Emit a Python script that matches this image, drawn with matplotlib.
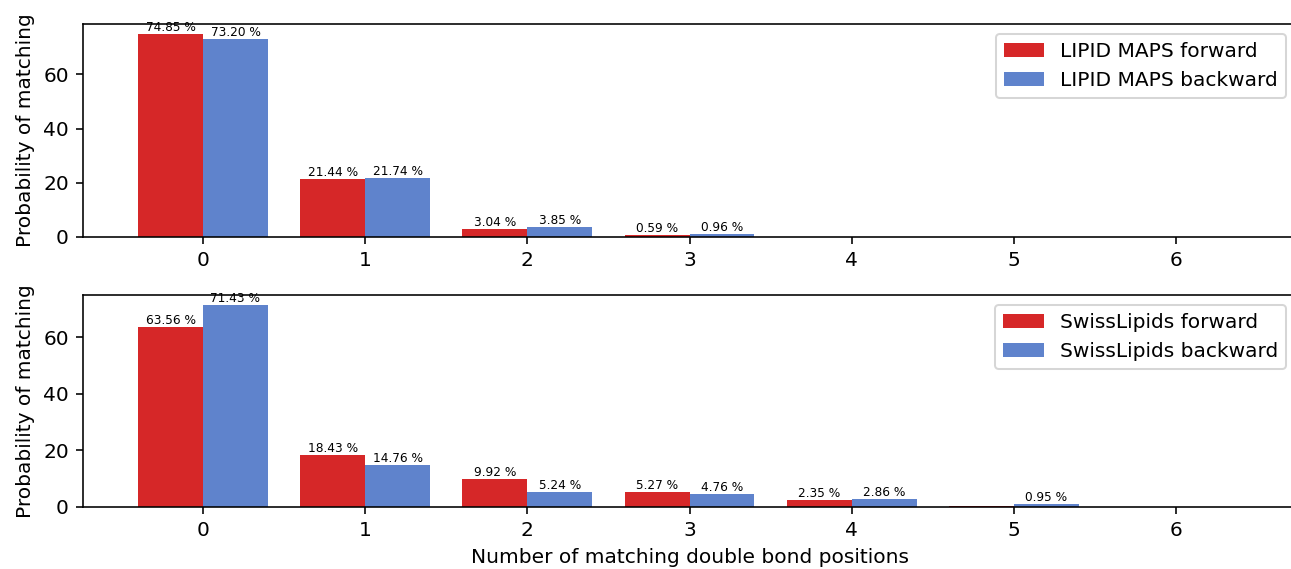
import numpy as np
import matplotlib.pyplot as plt

# Number of matching double bond positions
positions = np.arange(7)

# LIPID MAPS matching probabilities (%)
lm_forward = [74.85, 21.44, 3.04, 0.59, 0.0, 0.0, 0.0]
lm_backward = [73.20, 21.74, 3.85, 0.96, 0.0, 0.0, 0.0]

# SwissLipids matching probabilities (%)
sl_forward = [63.56, 18.43, 9.92, 5.27, 2.35, 0.47, 0.0]
sl_backward = [71.43, 14.76, 5.24, 4.76, 2.86, 0.95, 0.0]

# which bars carry a percentage label
lm_forward_lab = [True, True, True, True, False, False, False]
lm_backward_lab = [True, True, True, True, False, False, False]
sl_forward_lab = [True, True, True, True, True, False, False]
sl_backward_lab = [True, True, True, True, True, True, False]

red = '#d62728'
blue = '#5f83cc'
width = 0.4

DPI = 145
fig = plt.figure(figsize=(1291 / DPI, 569 / DPI), dpi=DPI)
ax1 = fig.add_axes([0.0643, 0.5835, 0.9396, 0.3743])
ax2 = fig.add_axes([0.0643, 0.1090, 0.9396, 0.3725])


def draw_panel(ax, fwd, bwd, fwd_lab, bwd_lab, names):
    b1 = ax.bar(positions - width / 2, fwd, width, color=red, label=names[0])
    b2 = ax.bar(positions + width / 2, bwd, width, color=blue, label=names[1])
    for bars, vals, labs in [(b1, fwd, fwd_lab), (b2, bwd, bwd_lab)]:
        for rect, v, show in zip(bars, vals, labs):
            if show:
                ax.text(rect.get_x() + rect.get_width() / 2, v, f'{v:.2f} %',
                        ha='center', va='bottom', fontsize=6)
    ax.set_xticks(positions)
    ax.set_xlim(-0.74, 6.74)
    ax.set_ylim(0, max(max(fwd), max(bwd)) * 1.05)
    ax.set_yticks([0, 20, 40, 60])
    ax.set_ylabel('Probability of matching')
    ax.legend(loc='upper right')


draw_panel(ax1, lm_forward, lm_backward, lm_forward_lab, lm_backward_lab,
           ['LIPID MAPS forward', 'LIPID MAPS backward'])
draw_panel(ax2, sl_forward, sl_backward, sl_forward_lab, sl_backward_lab,
           ['SwissLipids forward', 'SwissLipids backward'])
ax2.set_xlabel('Number of matching double bond positions')

fig.savefig('out.png', dpi=DPI)
